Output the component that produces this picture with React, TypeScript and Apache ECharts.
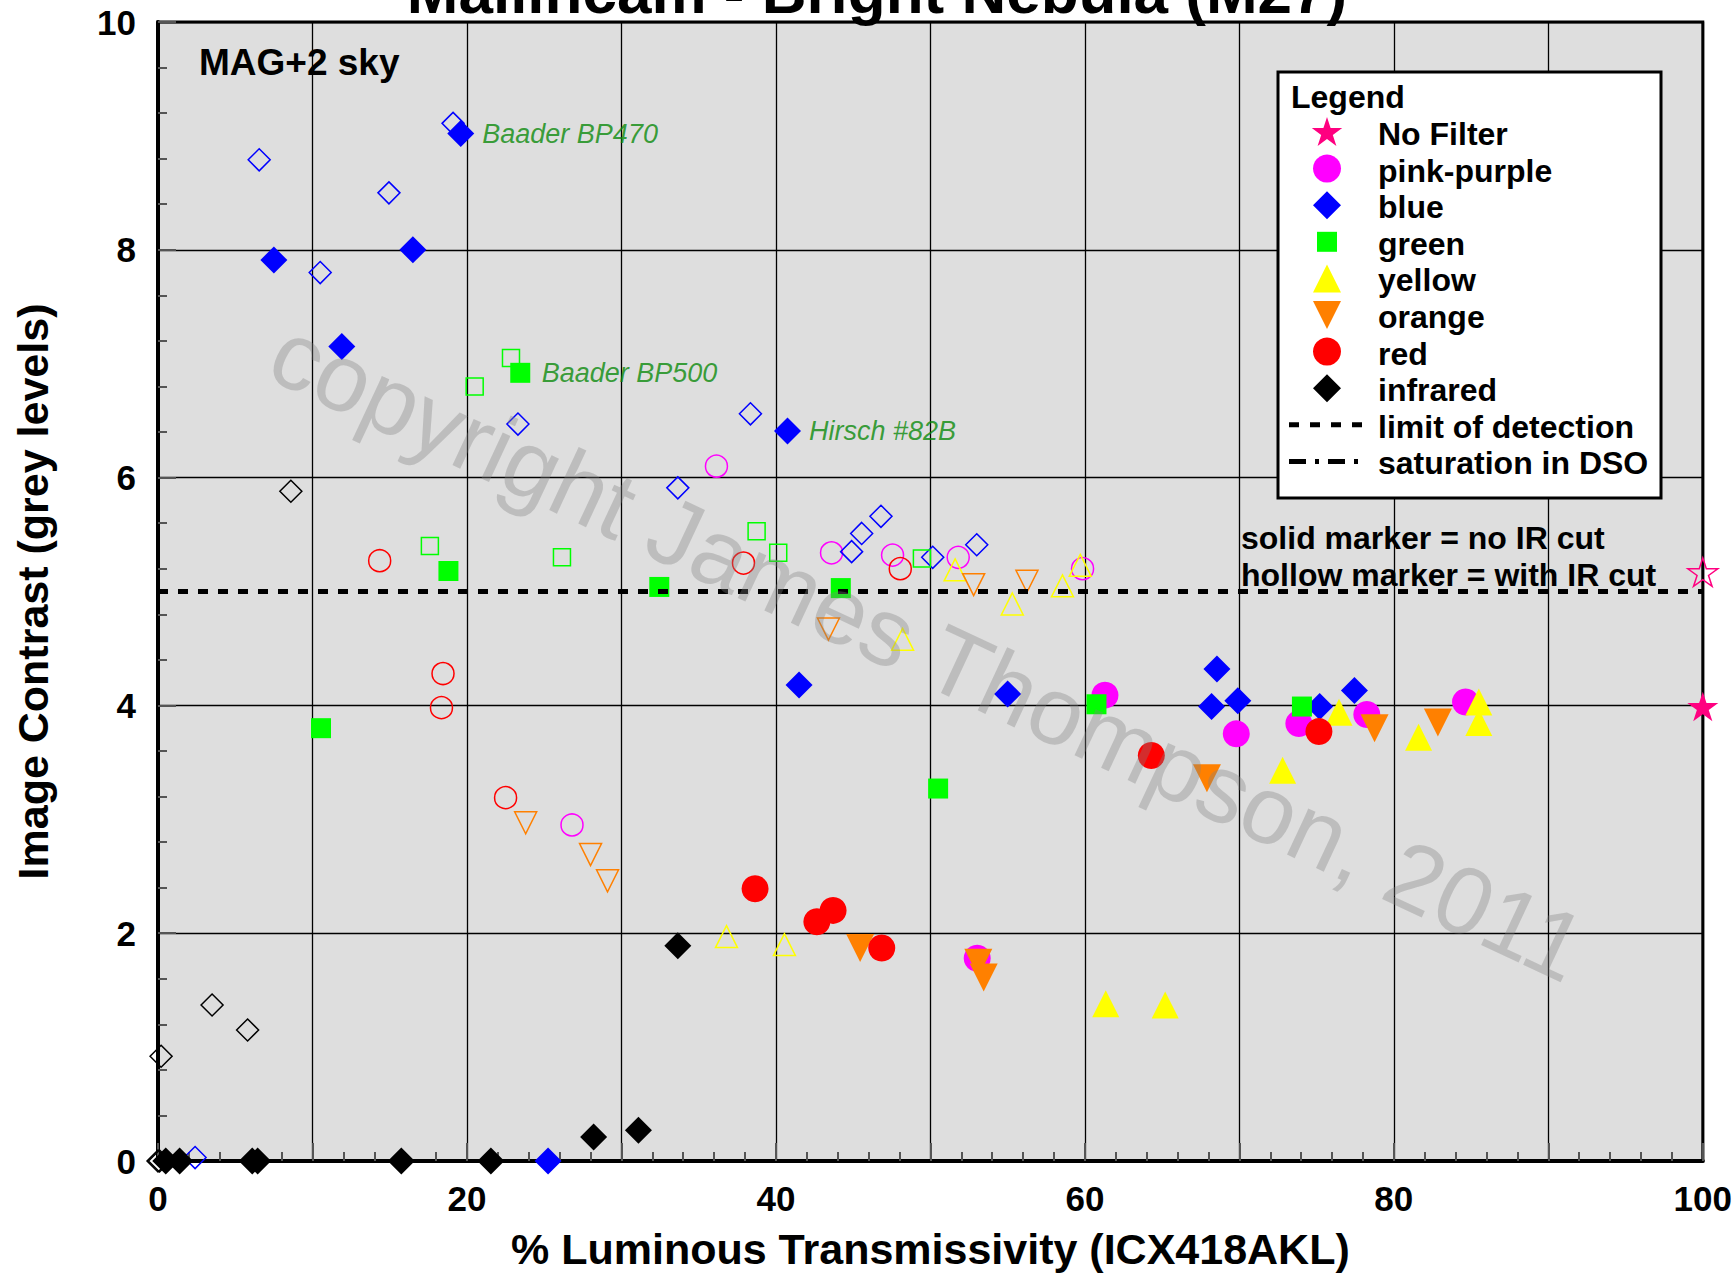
import React, { useEffect, useRef } from "react";
import * as echarts from "echarts";

// ---------- data ----------
const noFilterSolid = [[100, 3.99]];
const noFilterHollow = [[100, 5.17]];
const pinkSolid = [[61.3, 4.09], [69.8, 3.75], [73.85, 3.84], [78.25, 3.92], [84.64, 4.03], [53.03, 1.78]];
const pinkHollow = [[36.15, 6.1], [43.6, 5.34], [47.55, 5.32], [51.8, 5.3], [59.85, 5.2], [26.8, 2.95]];
const blueSolid = [[7.5, 7.91], [19.6, 9.02], [16.5, 8.0], [11.9, 7.15], [40.75, 6.41], [41.5, 4.18], [55.0, 4.1], [68.2, 3.99], [68.55, 4.32], [69.9, 4.04], [75.2, 3.99], [77.45, 4.13], [25.25, 0]];
const blueHollow = [[6.55, 8.79], [19.1, 9.11], [14.95, 8.5], [10.5, 7.8], [23.3, 6.47], [38.35, 6.56], [33.65, 5.91], [44.9, 5.35], [45.55, 5.51], [46.8, 5.66], [50.15, 5.3], [53.0, 5.41], [2.4, 0.03]];
const greenSolid = [[23.45, 6.92], [18.8, 5.18], [32.45, 5.04], [44.2, 5.03], [10.55, 3.8], [60.75, 4.01], [74.05, 3.99], [50.5, 3.27]];
const greenHollow = [[22.85, 7.05], [20.5, 6.8], [17.6, 5.4], [26.15, 5.3], [38.75, 5.53], [40.15, 5.34], [49.45, 5.29]];
const yellowSolid = [[61.35, 1.38], [65.2, 1.37], [72.8, 3.43], [76.45, 3.94], [81.6, 3.72], [85.5, 4.03], [85.5, 3.85]];
const yellowHollow = [[36.8, 1.97], [40.55, 1.9], [48.2, 4.58], [51.6, 5.19], [55.3, 4.89], [58.55, 5.05], [59.7, 5.23]];
const orangeSolid = [[45.45, 1.87], [53.1, 1.74], [53.45, 1.61], [67.9, 3.36], [78.75, 3.8], [82.85, 3.85]];
const orangeHollow = [[23.8, 2.97], [28.0, 2.69], [29.1, 2.46], [43.4, 4.67], [52.8, 5.06], [56.25, 5.09]];
const redSolid = [[38.65, 2.39], [42.65, 2.1], [43.7, 2.2], [46.85, 1.87], [64.3, 3.56], [75.15, 3.77]];
const redHollow = [[14.35, 5.27], [18.45, 4.28], [18.35, 3.98], [22.5, 3.19], [37.9, 5.25], [48.05, 5.2]];
const infraredSolid = [[33.65, 1.89], [28.2, 0.21], [31.1, 0.27], [0.5, 0], [1.4, 0], [6.1, 0], [6.45, 0], [15.75, 0], [21.55, 0]];
const infraredHollow = [[8.6, 5.88], [3.5, 1.37], [5.8, 1.15], [0.2, 0.92], [0, 0], [0.1, 0]];
const limitOfDetection = [[0, 5], [100, 5]];
const annotationPoints = [
  { name: "Baader BP470", value: [19.6, 9.02] },
  { name: "Baader BP500", value: [23.45, 6.92] },
  { name: "Hirsch #82B", value: [40.75, 6.41] },
];
const xLabelValues = [0, 20, 40, 60, 80, 100];
const legendLabels = ["No Filter", "pink-purple", "blue", "green", "yellow", "orange", "red", "infrared", "limit of detection", "saturation in DSO"];

const TITLE = "Mallincam - Bright Nebula (M27)";
const X_NAME = "% Luminous Transmissivity (ICX418AKL)";
const Y_NAME = "Image Contrast (grey levels)";
const WATERMARK = "copyright James Thompson, 2011";

// ---------- style ----------
const FONT = '"Liberation Sans", Arial, Helvetica, sans-serif';
const C = {
  star: "#ff0080",
  pink: "#ff00ff",
  blue: "#0000ff",
  green: "#00ff00",
  yellow: "#ffff00",
  orange: "#ff8000",
  red: "#ff0000",
  black: "#000000",
};
const STAR =
  "path://M50 0 L61.23 34.55 L97.55 34.55 L68.17 55.9 L79.39 90.45 L50 69.1 L20.61 90.45 L31.83 55.9 L2.45 34.55 L38.77 34.55 Z";

function scatter(name: string, data: number[][], color: string, symbol: string, size: number, hollow: boolean, rotate = 0) {
  return {
    name,
    type: "scatter",
    data,
    symbol,
    symbolSize: size,
    symbolRotate: rotate,
    symbolKeepAspect: true,
    clip: false,
    silent: true,
    z: hollow ? 2 : 3,
    itemStyle: hollow
      ? { color: "rgba(0,0,0,0)", borderColor: color, borderWidth: 1.5, opacity: 1 }
      : { color, borderWidth: 0, opacity: 1 },
  };
}

function starPoints(cx: number, cy: number, R: number) {
  const pts: number[][] = [];
  for (let i = 0; i < 10; i++) {
    const r = i % 2 === 0 ? R : R * 0.382;
    const a = -Math.PI / 2 + (i * Math.PI) / 5;
    pts.push([cx + r * Math.cos(a), cy + r * Math.sin(a)]);
  }
  return pts;
}

function buildLegend() {
  const els: any[] = [];
  const bx = 1278, by = 72, bw = 383, bh = 426;
  els.push({ type: "rect", shape: { x: bx, y: by, width: bw, height: bh }, style: { fill: "#fff", stroke: "#000", lineWidth: 3 }, z: 50 });
  els.push({ type: "text", x: 1291, y: 97, z: 51, style: { text: "Legend", fontSize: 32, fontWeight: "bold", fontFamily: FONT, fill: "#000", align: "left", verticalAlign: "middle" } });
  const ix = 1327;
  const rows = legendLabels.map((_, i) => 132 + i * 36.6);
  const s = 14;
  const icon = (i: number) => {
    const cy = rows[i];
    switch (i) {
      case 0: return { type: "polygon", shape: { points: starPoints(ix, cy + 1, 16) }, style: { fill: C.star } };
      case 1: return { type: "circle", shape: { cx: ix, cy, r: s }, style: { fill: C.pink } };
      case 2: return { type: "polygon", shape: { points: [[ix, cy - s], [ix + s, cy], [ix, cy + s], [ix - s, cy]] }, style: { fill: C.blue } };
      case 3: return { type: "rect", shape: { x: ix - 10, y: cy - 10, width: 20, height: 20 }, style: { fill: C.green } };
      case 4: return { type: "polygon", shape: { points: [[ix, cy - s], [ix + s, cy + s], [ix - s, cy + s]] }, style: { fill: C.yellow } };
      case 5: return { type: "polygon", shape: { points: [[ix - s, cy - s], [ix + s, cy - s], [ix, cy + s]] }, style: { fill: C.orange } };
      case 6: return { type: "circle", shape: { cx: ix, cy, r: s }, style: { fill: C.red } };
      case 7: return { type: "polygon", shape: { points: [[ix, cy - s], [ix + s, cy], [ix, cy + s], [ix - s, cy]] }, style: { fill: C.black } };
      case 8: return { type: "line", shape: { x1: 1289, y1: cy, x2: 1366, y2: cy }, style: { stroke: "#000", lineWidth: 5, lineDash: [10, 11] } };
      default: return { type: "line", shape: { x1: 1289, y1: cy, x2: 1366, y2: cy }, style: { stroke: "#000", lineWidth: 5, lineDash: [17, 9, 4, 9] } };
    }
  };
  legendLabels.forEach((label, i) => {
    els.push({ ...icon(i), z: 51 });
    els.push({ type: "text", x: 1378, y: rows[i] + 2, z: 51, style: { text: label, fontSize: 32, fontWeight: "bold", fontFamily: FONT, fill: "#000", align: "left", verticalAlign: "middle" } });
  });
  return els;
}

export default function App() {
  const ref = useRef<HTMLDivElement>(null);
  useEffect(() => {
    if (!ref.current) return;
    const chart = echarts.init(ref.current, undefined, { renderer: "svg" });
    const axisText = { fontSize: 35, fontWeight: "bold", fontFamily: FONT, color: "#000" };
    const option: any = {
      animation: false,
      backgroundColor: "#fff",
      grid: { left: 158, top: 22, width: 1545, height: 1145, show: true, backgroundColor: "#dedede", borderColor: "#000", borderWidth: 3 },
      xAxis: {
        type: "value",
        min: 0,
        max: 100,
        interval: 10,
        name: X_NAME,
        nameLocation: "middle",
        nameGap: 66,
        nameTextStyle: { fontSize: 43, fontWeight: "bold", fontFamily: FONT, color: "#000" },
        axisLine: { show: true, onZero: false, lineStyle: { color: "#000", width: 4 } },
        axisTick: { show: true, inside: true, length: 18, lineStyle: { color: "#555", width: 2 } },
        minorTick: { show: true, splitNumber: 5, length: 9, lineStyle: { color: "#555", width: 2 } },
        splitLine: { show: true, lineStyle: { color: "#000", width: 1.3 } },
        axisLabel: { ...axisText, margin: 20, formatter: (v: number) => (xLabelValues.indexOf(v) >= 0 ? String(v) : "") },
      },
      yAxis: {
        type: "value",
        min: 0,
        max: 10,
        interval: 2,
        name: Y_NAME,
        nameLocation: "middle",
        nameGap: 104,
        nameTextStyle: { fontSize: 43, fontWeight: "bold", fontFamily: FONT, color: "#000" },
        axisLine: { show: true, onZero: false, lineStyle: { color: "#000", width: 4 } },
        axisTick: { show: true, inside: true, length: 18, lineStyle: { color: "#555", width: 2 } },
        minorTick: { show: true, splitNumber: 5, length: 9, lineStyle: { color: "#555", width: 2 } },
        splitLine: { show: true, lineStyle: { color: "#000", width: 1.3 } },
        axisLabel: { ...axisText, margin: 22 },
      },
      series: [
        scatter("No Filter (IR cut)", noFilterHollow, C.star, STAR, 30, true),
        scatter("pink-purple (IR cut)", pinkHollow, C.pink, "circle", 22, true),
        scatter("blue (IR cut)", blueHollow, C.blue, "diamond", 22, true),
        scatter("green (IR cut)", greenHollow, C.green, "rect", 17, true),
        scatter("yellow (IR cut)", yellowHollow, C.yellow, "triangle", 22, true),
        scatter("orange (IR cut)", orangeHollow, C.orange, "triangle", 22, true, 180),
        scatter("red (IR cut)", redHollow, C.red, "circle", 22, true),
        scatter("infrared (IR cut)", infraredHollow, C.black, "diamond", 22, true),
        scatter("No Filter", noFilterSolid, C.star, STAR, 31, false),
        scatter("pink-purple", pinkSolid, C.pink, "circle", 27, false),
        scatter("blue", blueSolid, C.blue, "diamond", 27, false),
        scatter("green", greenSolid, C.green, "rect", 20, false),
        scatter("yellow", yellowSolid, C.yellow, "triangle", 27, false),
        scatter("orange", orangeSolid, C.orange, "triangle", 28, false, 180),
        scatter("red", redSolid, C.red, "circle", 27, false),
        scatter("infrared", infraredSolid, C.black, "diamond", 27, false),
        {
          name: "limit of detection",
          type: "line",
          data: limitOfDetection,
          symbol: "none",
          silent: true,
          z: 4,
          lineStyle: { color: "#000", width: 5, type: [10, 10] },
        },
        {
          name: "annotations",
          type: "scatter",
          data: annotationPoints,
          symbol: "circle",
          symbolSize: 1,
          silent: true,
          z: 6,
          itemStyle: { color: "rgba(0,0,0,0)" },
          label: {
            show: true,
            position: "right",
            distance: 21,
            formatter: (p: any) => p.name,
            fontSize: 27,
            fontStyle: "italic",
            fontFamily: FONT,
            color: "#0b8a0b",
          },
        },
      ],
      graphic: [
        { type: "text", x: 877, y: -9, z: 10, style: { text: TITLE, fontSize: 62, fontWeight: "bold", fontFamily: FONT, fill: "#000", align: "center", verticalAlign: "middle" } },
        { type: "text", x: 199, y: 62, z: 10, style: { text: "MAG+2 sky", fontSize: 37, fontWeight: "bold", fontFamily: FONT, fill: "#000", align: "left", verticalAlign: "middle" } },
        { type: "text", x: 1241, y: 538, z: 10, style: { text: "solid marker = no IR cut", fontSize: 32, fontWeight: "bold", fontFamily: FONT, fill: "#000", align: "left", verticalAlign: "middle" } },
        { type: "text", x: 1241, y: 575, z: 10, style: { text: "hollow marker = with IR cut", fontSize: 32, fontWeight: "bold", fontFamily: FONT, fill: "#000", align: "left", verticalAlign: "middle" } },
        {
          type: "text",
          x: 928,
          y: 650,
          rotation: (-25 * Math.PI) / 180,
          z: 40,
          silent: true,
          style: { text: WATERMARK, fontSize: 96, fontFamily: FONT, fill: "rgba(128,128,128,0.35)", align: "center", verticalAlign: "middle" },
        },
        ...buildLegend(),
      ],
    };
    chart.setOption(option);
    return () => chart.dispose();
  }, []);
  return <div ref={ref} style={{ position: "absolute", left: 0, top: 0, width: 1735, height: 1275 }} />;
}
